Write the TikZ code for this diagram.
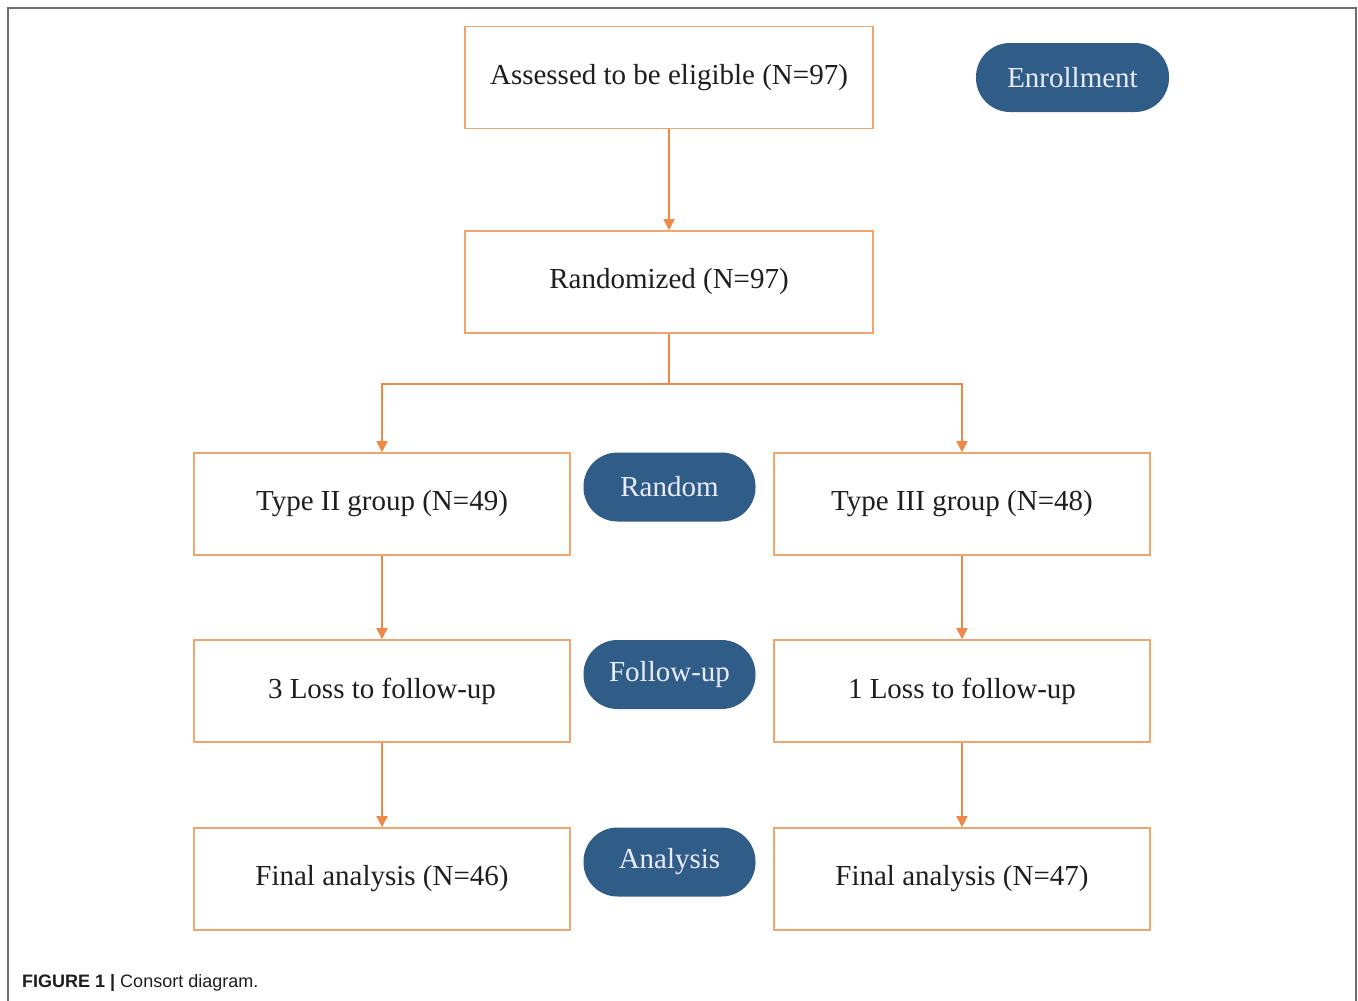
\documentclass[tikz,border=0pt]{standalone}
\usepackage{fontspec}
\setmainfont{Liberation Serif}
\newfontfamily\capfont{Liberation Sans}
\usetikzlibrary{arrows.meta}
\definecolor{boxor}{HTML}{F0A46E}
\definecolor{arror}{HTML}{EE8A45}
\definecolor{pillblue}{HTML}{2F5D87}
\definecolor{frameg}{HTML}{6E6E6E}
\definecolor{txt}{HTML}{1E1E1E}
\tikzset{
  flowbox/.style={draw=boxor, line width=1.6pt, fill=white, minimum width=#1, minimum height=102pt, inner sep=0pt, text=txt, font=\fontsize{29}{33}\selectfont},
  pill/.style={fill=pillblue, rounded corners=34pt, minimum width=172pt, minimum height=69pt, inner sep=0pt, text=white!92!blue, font=\fontsize{29}{33}\selectfont},
  conn/.style={draw=arror, line width=1.6pt, -{Triangle[width=11pt,length=11pt]}},
  line/.style={draw=arror, line width=1.6pt}
}
\begin{document}
\begin{tikzpicture}[x=1pt,y=-1pt]
\useasboundingbox (0,0) rectangle (1358,1001);
\fill[white] (0,0) rectangle (1358,1001);
\draw[frameg, line width=2pt] (8,1001) -- (8,8) -- (1356,8) -- (1356,1001);

\node[flowbox=408pt] (assess) at (669,77.5) {Assessed to be eligible (N=97)};
\node[flowbox=408pt] (rand) at (669,282) {Randomized (N=97)};
\node[flowbox=376pt] (t2) at (382,504) {Type II group (N=49)};
\node[flowbox=376pt] (t3) at (962,504) {Type III group (N=48)};
\node[flowbox=376pt] (l2) at (382,691) {3 Loss to follow-up};
\node[flowbox=376pt] (l3) at (962,691) {1 Loss to follow-up};
\node[flowbox=376pt] (f2) at (382,879) {Final analysis (N=46)};
\node[flowbox=376pt] (f3) at (962,879) {Final analysis (N=47)};

\node[pill, minimum width=193pt] (enr) at (1072.5,77.5) {Enrollment};
\node[pill] (prand) at (669.5,487) {Random};
\node[pill] (pfol) at (669.5,674.5) {Follow-up};
\node[pill] (pana) at (669.5,862) {Analysis};

\coordinate (split) at (669,384);
\draw[conn] (assess) -- (rand);
\draw[line] (rand) -- (split);
\draw[conn] (split) -| (t2.north);
\draw[conn] (split) -| (t3.north);
\draw[conn] (t2) -- (l2);
\draw[conn] (t3) -- (l3);
\draw[conn] (l2) -- (f2);
\draw[conn] (l3) -- (f3);

\node[anchor=base west, inner sep=0pt, text=txt, font=\capfont\fontsize{18}{20}\selectfont] (cap) at (22,987) {\textbf{FIGURE 1 |} Consort diagram.};
\end{tikzpicture}
\end{document}
